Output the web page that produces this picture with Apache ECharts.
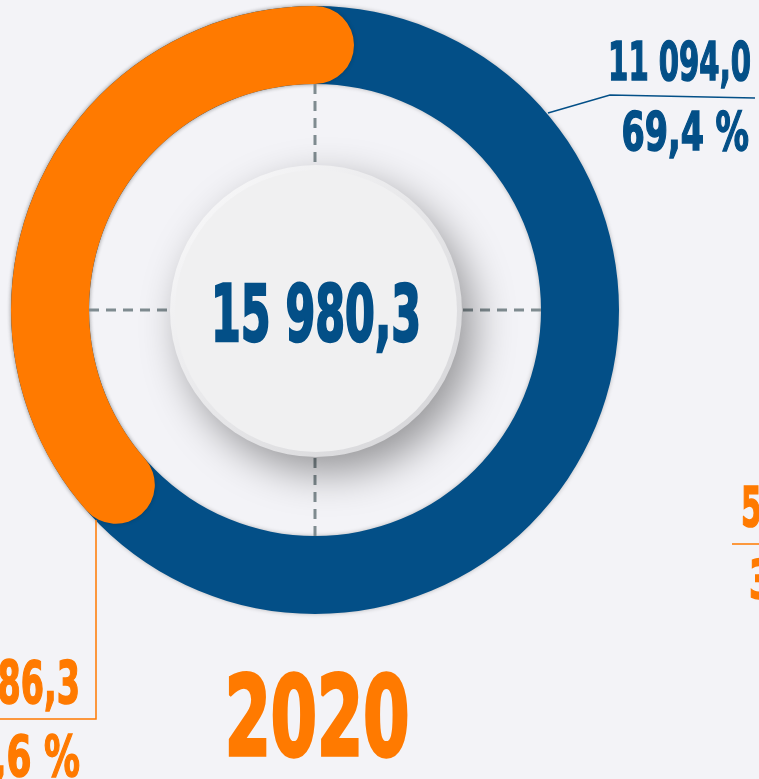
<!DOCTYPE html>
<html>
<head>
<meta charset="utf-8">
<script src="https://cdn.jsdelivr.net/npm/echarts@6/dist/echarts.min.js"></script>
<style>
html,body{margin:0;padding:0;background:#f3f3f7;}
#main{width:759px;height:779px;}
</style>
</head>
<body>
<div id="main"></div>
<script>
// data
var year = '2020';
var total = 15980.3;
var values = [11094.0, 4886.3];   // blue, orange
var shares = [69.4, 30.6];        // %
var nextValue = '5';              // cut-off labels of the next chart
var nextShare = '3';

var blue = '#034f87';
var orange = '#ff7a00';
var font = "'DejaVu Sans Condensed', 'DejaVu Sans', sans-serif";
// the design draws the orange arc longer than its share
var arcMax = 13400;

function fmt(v) {
    var s = v.toFixed(1).split('.');
    return s[0].replace(/\B(?=(\d{3})+(?!\d))/g, ' ') + ',' + s[1];
}
function pct(v) {
    return String(v).replace('.', ',') + ' %';
}

function txt(x, y, str, size, color, align, sx, bold) {
    return {
        type: 'text', x: x, y: y, scaleX: sx, z: 20, silent: true,
        style: {
            text: str, fill: color, fontSize: size, fontFamily: font, fontWeight: 'bold',
            stroke: color, lineWidth: bold || 1.5,
            align: align, textAlign: align, verticalAlign: 'middle', textVerticalAlign: 'middle'
        }
    };
}

var cx = 315, cy = 310;
var dash = {stroke: '#7f8b90', lineWidth: 3, lineDash: [10, 7]};

var myChart = echarts.init(document.getElementById('main'));
var option = {
    backgroundColor: '#f3f3f7',
    animation: false,
    polar: {center: [cx, cy], radius: [226, 304]},
    angleAxis: {type: 'value', min: 0, max: arcMax, startAngle: 90, clockwise: false, show: false},
    radiusAxis: {type: 'category', data: [year], show: false},
    series: [
        {
            type: 'pie',
            center: [cx, cy],
            radius: [226, 304],
            silent: true,
            z: 1,
            label: {show: false},
            labelLine: {show: false},
            itemStyle: {color: blue, shadowBlur: 4, shadowColor: 'rgba(0,0,0,0.25)'},
            data: [{value: values[0]}]
        },
        {
            type: 'bar',
            coordinateSystem: 'polar',
            roundCap: true,
            barWidth: '100%',
            silent: true,
            z: 3,
            itemStyle: {color: orange, shadowBlur: 4, shadowColor: 'rgba(0,0,0,0.2)'},
            data: [values[1]]
        }
    ],
    graphic: [
        // dashed cross
        {type: 'line', z: 5, silent: true, shape: {x1: cx, y1: 84, x2: cx, y2: 536}, style: dash},
        {type: 'line', z: 5, silent: true, shape: {x1: 89, y1: cy, x2: 541, y2: cy}, style: dash},
        // centre button
        {
            type: 'circle', z: 6, silent: true,
            shape: {cx: cx + 1, cy: cy + 1, r: 146},
            style: {
                fill: new echarts.graphic.LinearGradient(0, 0, 1, 1, [
                    {offset: 0, color: '#fbfbfc'}, {offset: 1, color: '#d3d3d6'}
                ]),
                shadowBlur: 40, shadowOffsetX: 12, shadowOffsetY: 16,
                shadowColor: 'rgba(0,0,0,0.38)'
            }
        },
        {
            type: 'circle', z: 7, silent: true,
            shape: {cx: cx + 1, cy: cy + 1, r: 141},
            style: {fill: '#f0f0f1'}
        },
        txt(cx + 1, 321, fmt(total), 78, blue, 'center', 0.61, 2.5),
        // blue label
        {type: 'polyline', z: 8, silent: true, shape: {points: [[548, 113], [610, 95], [755, 98]]},
            style: {stroke: blue, lineWidth: 1.5, fill: null}},
        txt(751, 66, fmt(values[0]), 54, blue, 'right', 0.6),
        txt(749, 136, pct(shares[0]), 53, blue, 'right', 0.7),
        // orange label
        {type: 'polyline', z: 8, silent: true, shape: {points: [[96, 520], [96, 719], [0, 719]]},
            style: {stroke: orange, lineWidth: 1.5, fill: null}},
        txt(80, 688, fmt(values[1]), 58, orange, 'right', 0.64),
        txt(80, 762, pct(shares[1]), 57, orange, 'right', 0.7),
        // year
        txt(317, 726, year, 110, orange, 'center', 0.67, 3.5),
        // next chart, cut off at the edge
        {type: 'line', z: 8, silent: true, shape: {x1: 732, y1: 544, x2: 759, y2: 544},
            style: {stroke: orange, lineWidth: 1.5}},
        txt(741, 512, nextValue, 55, orange, 'left', 0.6),
        txt(749, 584, nextShare, 54, orange, 'left', 0.7)
    ]
};
myChart.setOption(option);
</script>
</body>
</html>
